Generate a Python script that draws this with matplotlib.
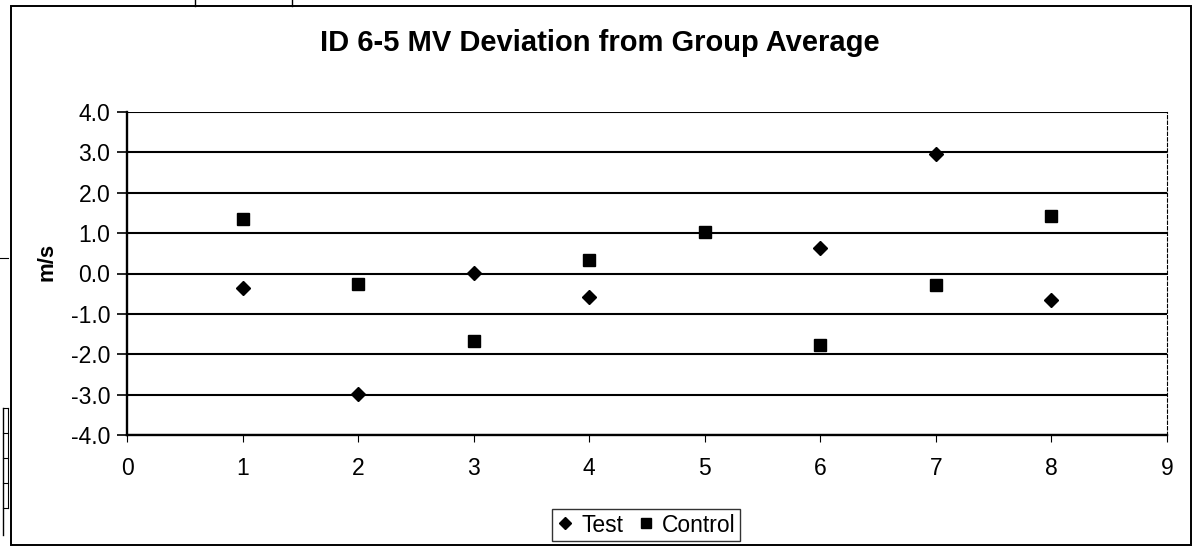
import numpy as np
import matplotlib
matplotlib.use('Agg')
import matplotlib.pyplot as plt
from matplotlib.lines import Line2D

# donnees
x_pos = [1, 2, 3, 4, 5, 6, 7, 8]
test = [-0.36, -2.98, 0.02, -0.57, np.nan, 0.63, 2.95, -0.66]
control = [1.34, -0.27, -1.66, 0.33, 1.02, -1.76, -0.28, 1.43]
y_ticks = [-4, -3, -2, -1, 0, 1, 2, 3, 4]
x_ticks = [0, 1, 2, 3, 4, 5, 6, 7, 8, 9]

plt.rcParams['font.family'] = ['Liberation Sans', 'DejaVu Sans']
plt.rcParams['axes.unicode_minus'] = False

W, H = 1193, 550
fig = plt.figure(figsize=(W / 100, H / 100), dpi=100)

# zone de trace
ax = fig.add_axes([127 / W, 1 - 435 / H, (1167 - 127) / W, (435 - 112) / H])
ax.set_xlim(0, 9)
ax.set_ylim(-4, 4)

for v in y_ticks:
    ax.axhline(v, color='black', lw=1.5, zorder=1)

ax.plot(x_pos, test, linestyle='none', marker='D', ms=7.2, color='black',
        label='Test', zorder=3)
ax.plot(x_pos, control, linestyle='none', marker='s', ms=9, color='black',
        label='Control', zorder=3)

ax.set_yticks(y_ticks)
ax.set_yticklabels(['%.1f' % v for v in y_ticks])
ax.set_xticks(x_ticks)
ax.set_xticklabels([str(v) for v in x_ticks])
ax.tick_params(axis='y', direction='out', length=7, width=1.2, labelsize=16.5, pad=5)
ax.tick_params(axis='x', direction='out', length=5, width=0.8, labelsize=16.5, pad=11)

ax.spines['top'].set_visible(False)
ax.spines['left'].set_linewidth(1.7)
ax.spines['bottom'].set_linewidth(1.7)
ax.spines['right'].set_linewidth(0.8)
ax.spines['right'].set_linestyle((0, (3, 2)))

# titre et axe y
fig.text(600 / W, 1 - 43 / H, 'ID 6-5 MV Deviation from Group Average',
         ha='center', va='center', fontsize=21, fontweight='bold')
fig.text(47 / W, 1 - 262 / H, 'm/s', rotation=90, ha='center', va='center',
         fontsize=16, fontweight='bold')

leg = ax.legend(loc='center', bbox_to_anchor=(646 / W, 1 - 525 / H),
                bbox_transform=fig.transFigure, ncol=2, fontsize=16.5,
                frameon=True, fancybox=False, handlelength=0.8,
                handletextpad=0.3, columnspacing=0.6, borderpad=0.2,
                borderaxespad=0, markerscale=0.85)
leg.get_frame().set_edgecolor('black')
leg.get_frame().set_linewidth(1.0)

# cadre du graphique
fig.add_artist(plt.Rectangle((11 / W, 1 - 545 / H), (1191 - 11) / W, (545 - 6) / H,
                             transform=fig.transFigure, fill=False,
                             edgecolor='black', lw=1.4))

# traits parasites du scan
def seg(x0, y0, x1, y1, lw=1.0):
    fig.add_artist(Line2D([x0 / W, x1 / W], [1 - y0 / H, 1 - y1 / H],
                          transform=fig.transFigure, color='black', lw=lw))

seg(195, 0, 195, 6)
seg(292, 0, 292, 6)
seg(3, 408, 3, 535)
seg(8, 408, 8, 508, 0.8)
for yy in [408, 433, 458, 483, 508]:
    seg(3, yy, 8, yy, 0.8)
seg(0, 258, 8, 258, 0.8)

fig.savefig('out.png', dpi=100)
